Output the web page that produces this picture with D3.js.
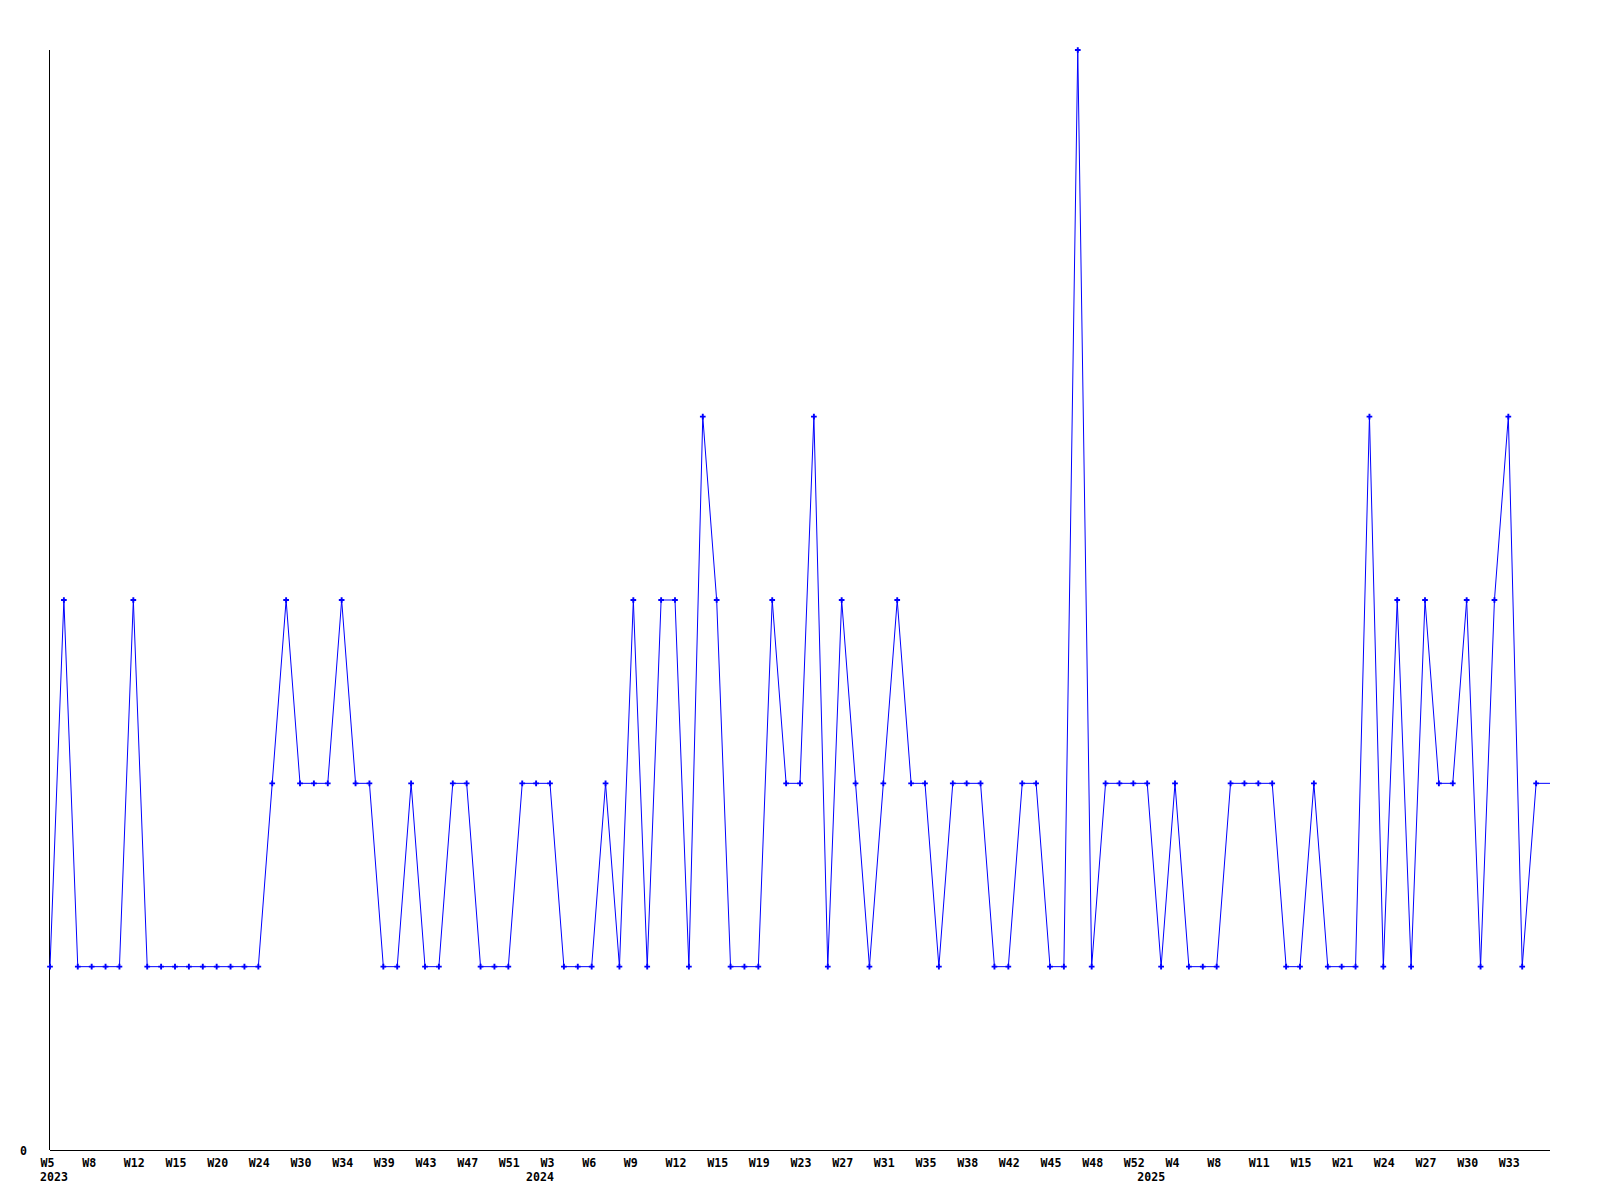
<!DOCTYPE html>
<html>
<head>
  <meta charset="UTF-8">
  <title>Weekly chart</title>
  <style>
    body{ margin:0; background:#ffffff; }
    .chart text{
      font-family: "DejaVu Sans Mono", "Liberation Mono", monospace;
      font-size: 11.6px;
      font-weight: bold;
      fill: #000000;
    }
    .chart .series{
      fill: none;
      stroke: #0000ff;
      stroke-width: 1px;
    }
    .chart .dot{
      fill: #0000ff;
    }
  </style>
</head>
<body>
  <svg id="chart" class="chart" width="1600" height="1200"></svg>

<script src="https://cdn.jsdelivr.net/npm/d3@7"></script>
<script>
  "use strict";

  // one entry per point, year-week
  var categories = [
    "2023-W5","2023-W6","2023-W7","2023-W8","2023-W10","2023-W11","2023-W12","2023-W13","2023-W14","2023-W15",
    "2023-W17","2023-W18","2023-W20","2023-W21","2023-W22","2023-W24","2023-W26","2023-W28","2023-W30","2023-W31",
    "2023-W33","2023-W34","2023-W36","2023-W37","2023-W39","2023-W40","2023-W41","2023-W43","2023-W44","2023-W45",
    "2023-W47","2023-W48","2023-W50","2023-W51","2023-W52","2024-W1","2024-W3","2024-W4","2024-W5","2024-W6",
    "2024-W7","2024-W8","2024-W9","2024-W10","2024-W11","2024-W12","2024-W13","2024-W14","2024-W15","2024-W16",
    "2024-W18","2024-W19","2024-W20","2024-W22","2024-W23","2024-W24","2024-W26","2024-W27","2024-W29","2024-W30",
    "2024-W31","2024-W32","2024-W34","2024-W35","2024-W36","2024-W37","2024-W38","2024-W40","2024-W41","2024-W42",
    "2024-W43","2024-W44","2024-W45","2024-W46","2024-W47","2024-W48","2024-W49","2024-W51","2024-W52","2025-W1",
    "2025-W3","2025-W4","2025-W5","2025-W7","2025-W8","2025-W9","2025-W10","2025-W11","2025-W12","2025-W14",
    "2025-W15","2025-W17","2025-W19","2025-W21","2025-W22","2025-W23","2025-W24","2025-W25","2025-W26","2025-W27",
    "2025-W28","2025-W29","2025-W30","2025-W31","2025-W32","2025-W33","2025-W34","2025-W35","2025-W36"
  ];

  var values = [
    1,3,1,1,1,1,3,1,1,1,
    1,1,1,1,1,1,2,3,2,2,
    2,3,2,2,1,1,2,1,1,2,
    2,1,1,1,2,2,2,1,1,1,
    2,1,3,1,3,3,1,4,3,1,
    1,1,3,2,2,4,1,3,2,1,
    2,3,2,2,1,2,2,2,1,1,
    2,2,1,1,6,1,2,2,2,2,
    1,2,1,1,1,2,2,2,2,1,
    1,2,1,1,1,4,1,3,1,3,
    2,2,3,1,3,4,1,2,2
  ];

  var yTicks = [0];
  var tickEvery = 3;

  var
    svg = d3.select("#chart"),
    plotLeft = 50, plotRight = 1550, plotTop = 50, plotBottom = 1150;

  var x = d3.scalePoint().domain(categories).range([plotLeft, plotRight]);
  var y = d3.scaleLinear().domain([0, d3.max(values)]).range([plotBottom, plotTop]);

  var points = categories.map(function(c, i){
    return { cat: c, week: c.split("-")[1], year: c.split("-")[0], value: values[i], i: i };
  });

  // x axis (the last point sits on the axis end and gets no label)
  var xAxis = d3.axisBottom(x)
    .tickValues(categories.filter(function(c, i){ return i % tickEvery === 0 && i < categories.length - 1; }))
    .tickSize(0)
    .tickFormat(function(c){ return c.split("-")[1]; });

  var gx = svg.append("g")
    .attr("transform", "translate(0," + plotBottom + ")")
    .call(xAxis);
  gx.attr("font-size", null).attr("font-family", null);
  gx.select(".domain").attr("stroke", "#000").attr("d", "M" + plotLeft + ",0.5H" + plotRight);
  gx.selectAll(".tick text")
    .attr("text-anchor", "start")
    .attr("x", -10)
    .attr("y", 17)
    .attr("dy", null);

  // year labels where a new year starts
  var yearStarts = points.filter(function(p, i){
    return i === 0 || p.year !== points[i - 1].year;
  });
  svg.append("g")
    .selectAll("text")
    .data(yearStarts)
    .enter()
    .append("text")
    .attr("x", function(d){ return x(d.cat) - 10; })
    .attr("y", plotBottom + 31)
    .text(function(d){ return d.year; });

  // y axis
  var yAxis = d3.axisLeft(y).tickValues(yTicks).tickSize(0).tickFormat(d3.format("d"));
  var gy = svg.append("g")
    .attr("transform", "translate(" + plotLeft + ",0)")
    .call(yAxis);
  gy.attr("font-size", null).attr("font-family", null);
  gy.select(".domain").attr("stroke", "#000").attr("d", "M-0.5," + plotTop + "V" + plotBottom);
  gy.selectAll(".tick text")
    .attr("text-anchor", "start")
    .attr("x", -30)
    .attr("y", 4)
    .attr("dy", null);

  // series
  var line = d3.line()
    .x(function(d){ return x(d.cat); })
    .y(function(d){ return y(d.value); });

  svg.append("path")
    .datum(points)
    .attr("class", "series")
    .attr("d", line);

  svg.append("g")
    .selectAll("path")
    .data(points.filter(function(d){ return d.i < points.length - 1; }))
    .enter()
    .append("path")
    .attr("class", "dot")
    .attr("transform", function(d){ return "translate(" + x(d.cat) + "," + y(d.value) + ")"; })
    .attr("d", d3.symbol().type(d3.symbolCross).size(18));
</script>
</body>
</html>
